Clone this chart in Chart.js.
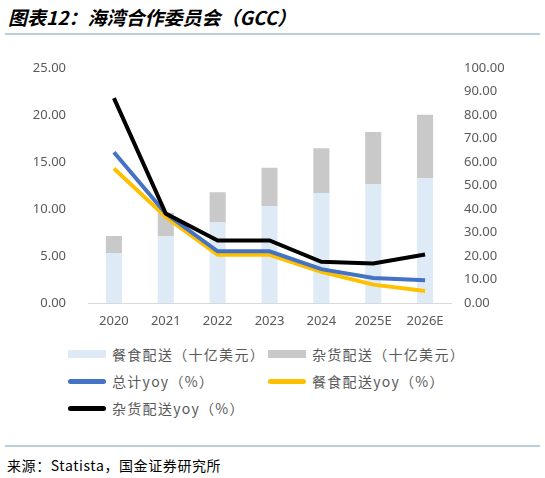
<!DOCTYPE html>
<html>
<head>
<meta charset="utf-8">
<script src="https://cdn.jsdelivr.net/npm/chart.js@4"></script>
<style>
  body { margin: 0; width: 545px; height: 478px; background: #fff; position: relative; overflow: hidden;
         font-family: "Noto Sans CJK SC", sans-serif; }
  #title { position: absolute; left: 8px; top: 3px; font-size: 19px; font-weight: bold; font-style: italic; color: #000; }
  .rule { position: absolute; left: 5px; width: 535px; height: 2px; background: #bccddc; }
  #wrap { position: absolute; left: 0; top: 38px; width: 545px; height: 297px; }
  #legend { position: absolute; left: 68px; top: 344px; width: 440px; font-size: 14px; color: #595959; letter-spacing: 1.3px; }
  .item { position: absolute; display: flex; align-items: center; white-space: nowrap; }
  .sw { display: inline-block; width: 38px; margin-right: 6px; border-radius: 3px; }
  #source { position: absolute; left: 7px; top: 455px; font-size: 14px; color: #000; letter-spacing: 0.6px; }
</style>
</head>
<body>
<div id="title">图表12：海湾合作委员会（GCC）</div>
<div class="rule" style="top:33px"></div>
<div id="wrap"><canvas id="myChart"></canvas></div>
<div id="legend"></div>
<div class="rule" style="top:445px"></div>
<div id="source">来源：Statista，国金证券研究所</div>
<script>
// 年份
const years = ["2020", "2021", "2022", "2023", "2024", "2025E", "2026E"];
// 规模（十亿美元）
const food_delivery = [5.26, 7.13, 8.61, 10.31, 11.69, 12.64, 13.28];
const grocery_delivery = [1.87, 2.47, 3.15, 4.06, 4.76, 5.54, 6.74];
// 同比增速（%）
const total_yoy = [64.1, 38.0, 22.0, 22.0, 14.4, 10.6, 9.7];
const food_yoy = [57.2, 36.6, 20.5, 20.5, 13.3, 7.8, 5.1];
const grocery_yoy = [87.1, 38.0, 26.6, 26.6, 17.5, 16.8, 20.6];

const tickFont = {family: "'Noto Sans', sans-serif", size: 13};
const tickColor = "#595959";

var ctx = document.getElementById('myChart').getContext('2d');
var myChart = new Chart(ctx, {
    type: 'bar',
    data: {
        labels: years,
        datasets: [
            {label: "餐食配送（十亿美元）", data: food_delivery, backgroundColor: "#deebf7",
             stack: "s", yAxisID: "y", order: 3, barPercentage: 0.31, categoryPercentage: 1},
            {label: "杂货配送（十亿美元）", data: grocery_delivery, backgroundColor: "#c9c9c9",
             stack: "s", yAxisID: "y", order: 3, barPercentage: 0.31, categoryPercentage: 1},
            {type: "line", label: "总计yoy（%）", data: total_yoy, borderColor: "#4472c4",
             backgroundColor: "#4472c4", borderWidth: 4, pointRadius: 0, yAxisID: "y1", order: 1},
            {type: "line", label: "餐食配送yoy（%）", data: food_yoy, borderColor: "#ffc000",
             backgroundColor: "#ffc000", borderWidth: 4, pointRadius: 0, yAxisID: "y1", order: 2},
            {type: "line", label: "杂货配送yoy（%）", data: grocery_yoy, borderColor: "#000000",
             backgroundColor: "#000000", borderWidth: 4, pointRadius: 0, yAxisID: "y1", order: 0}
        ]
    },
    options: {
        responsive: true,
        maintainAspectRatio: false,
        animation: false,
        layout: {padding: {top: 6}},
        plugins: {legend: {display: false}, tooltip: {enabled: false}},
        scales: {
            x: {
                stacked: true,
                grid: {display: false, drawTicks: false},
                border: {display: true, color: "#d9d9d9", width: 1},
                ticks: {font: tickFont, color: tickColor, padding: 10, maxRotation: 0},
                afterFit: (s) => { s.height = 32; }
            },
            y: {
                stacked: true,
                position: "left",
                min: 0, max: 25,
                grid: {display: false, drawTicks: false},
                border: {display: false},
                ticks: {stepSize: 5, font: tickFont, color: tickColor, padding: 22,
                        callback: (v) => v.toFixed(2)},
                afterFit: (s) => { s.width = 88; }
            },
            y1: {
                position: "right",
                min: 0, max: 100,
                grid: {display: false, drawTicks: false},
                border: {display: false},
                ticks: {stepSize: 10, font: tickFont, color: tickColor, padding: 13,
                        callback: (v) => v.toFixed(2)},
                afterFit: (s) => { s.width = 94; }
            }
        }
    }
});

//图例
const legend = document.getElementById('legend');
const slots = [[0, 0], [200, 0], [0, 27], [200, 27], [0, 54]];
myChart.data.datasets.forEach((ds, i) => {
    const item = document.createElement('div');
    item.className = 'item';
    item.style.left = slots[i][0] + 'px';
    item.style.top = slots[i][1] + 'px';
    const sw = document.createElement('span');
    sw.className = 'sw';
    const isLine = ds.type === 'line';
    sw.style.height = isLine ? '5px' : '8px';
    sw.style.background = isLine ? ds.borderColor : ds.backgroundColor;
    if (!isLine) sw.style.borderRadius = '0';
    item.appendChild(sw);
    item.appendChild(document.createTextNode(ds.label));
    legend.appendChild(item);
});
</script>
</body>
</html>
